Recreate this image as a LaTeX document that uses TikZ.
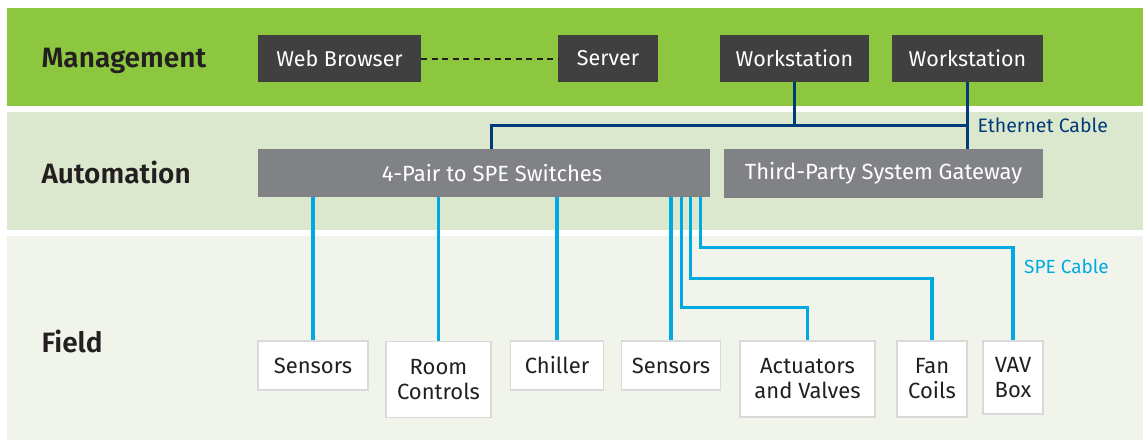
\documentclass[tikz,border=0pt]{standalone}
\usepackage{fontspec}
\setmainfont{Fira Sans}
\newfontfamily\layerfont{Fira Sans SemiBold}
\usetikzlibrary{positioning}

\definecolor{mgmtgreen}{HTML}{8DC63F}
\definecolor{autogreen}{HTML}{DCE8CE}
\definecolor{fieldgreen}{HTML}{F1F4EA}
\definecolor{darkbox}{HTML}{404040}
\definecolor{graybox}{HTML}{808285}
\definecolor{ethblue}{HTML}{003A78}
\definecolor{specyan}{HTML}{00A9E0}
\definecolor{boxedge}{HTML}{D9D9D9}
\definecolor{ink}{HTML}{231F20}

\tikzset{
    layer/.style={anchor=west, text=ink, font=\fontsize{28}{32}\selectfont\layerfont},
    mgmtbox/.style={fill=darkbox, text=white, inner sep=0pt, minimum height=47pt,
        font=\fontsize{21.5}{25}\selectfont},
    autobox/.style={fill=graybox, text=white, inner sep=0pt, minimum height=48pt,
        font=\fontsize{22}{25}\selectfont},
    fieldbox/.style={draw=boxedge, line width=1.5pt, fill=white, text=ink, inner sep=0pt,
        align=center, font=\fontsize{22}{25}\selectfont},
    ethernet/.style={draw=ethblue, line width=3pt},
    spe/.style={draw=specyan, line width=3.2pt},
}

\begin{document}
\begin{tikzpicture}[x=1pt,y=-1pt]
    \useasboundingbox[fill=white] (0,0) rectangle (1143,440);
    % bands
    \fill[mgmtgreen] (7,8) rectangle (1143,106);
    \fill[autogreen] (7,112) rectangle (1143,230);
    \fill[fieldgreen] (7,236) rectangle (1143,440);

    \node[layer] (lmgmt) at (38,61) {Management};
    \node[layer] (lauto) at (38,172) {Automation};
    \node[layer] (lfield) at (38,341) {Field};

    % management level
    \node[mgmtbox, minimum width=163pt] (web) at (339.5,58.5) {Web Browser};
    \node[mgmtbox, minimum width=100pt] (srv) at (608,58.5) {Server};
    \node[mgmtbox, minimum width=149pt] (ws1) at (794.5,58.5) {Workstation};
    \node[mgmtbox, minimum width=151pt] (ws2) at (967.5,58.5) {Workstation};

    % automation level
    \node[autobox, minimum width=452pt] (sw) at (484,173) {\hspace{16pt}4-Pair to SPE Switches};
    \node[autobox, minimum width=319pt, minimum height=49pt] (gw) at (883.5,173.5) {Third-Party System Gateway};

    % field level
    \node[fieldbox, minimum width=110pt, minimum height=49pt] (sens1) at (313,365.5) {Sensors};
    \node[fieldbox, minimum width=105pt, minimum height=76pt] (room) at (438.5,379.5) {Room\\Controls};
    \node[fieldbox, minimum width=93pt, minimum height=49pt] (chill) at (557,365.5) {Chiller};
    \node[fieldbox, minimum width=99pt, minimum height=49pt] (sens2) at (671,365.5) {Sensors};
    \node[fieldbox, minimum width=135pt, minimum height=76pt] (act) at (807.5,379) {Actuators\\and Valves};
    \node[fieldbox, minimum width=70pt, minimum height=76pt] (fan) at (932,379) {Fan\\Coils};
    \node[fieldbox, minimum width=60pt, minimum height=73pt] (vav) at (1013,377.5) {VAV\\Box};

    \draw[dashed, line width=2pt, dash pattern=on 6pt off 4.5pt, ink]
    (web) -- (srv)
    ;

    % ethernet
    \coordinate (ejoin) at (ws2.south |- 0,125);
    \draw[ethernet]
    (ws1.south) -- (ws1.south |- ejoin)
    ;
    \draw[ethernet]
    (ws2.south) -- (ws2.south |- gw.north)
    ;
    \draw[ethernet]
    (ejoin) -| ([xshift=7pt]sw.north)
    ;
    \node[anchor=west, text=ethblue, font=\fontsize{19.5}{22}\selectfont, inner sep=0pt]
    (ethlabel) at ([xshift=10pt]ejoin) {Ethernet Cable};

    % spe
    \foreach \dev in {sens1, room, chill, sens2}
        \draw[spe] (\dev.north |- sw.south) -- (\dev.north);
    \draw[spe]
    ([xshift=-29pt]sw.south east) |- ([yshift=33pt]act.north) -- (act.north)
    ;
    \draw[spe]
    ([xshift=-19.5pt]sw.south east) |- ([yshift=62pt]fan.north) -- (fan.north)
    ;
    \draw[spe]
    ([xshift=-10pt]sw.south east) |- ([yshift=93pt]vav.north) -- (vav.north)
    ;
    \node[anchor=west, text=specyan, font=\fontsize{19}{22}\selectfont, inner sep=0pt]
    (spelabel) at ([xshift=11pt,yshift=74pt]vav.north) {SPE Cable};
\end{tikzpicture}
\end{document}
